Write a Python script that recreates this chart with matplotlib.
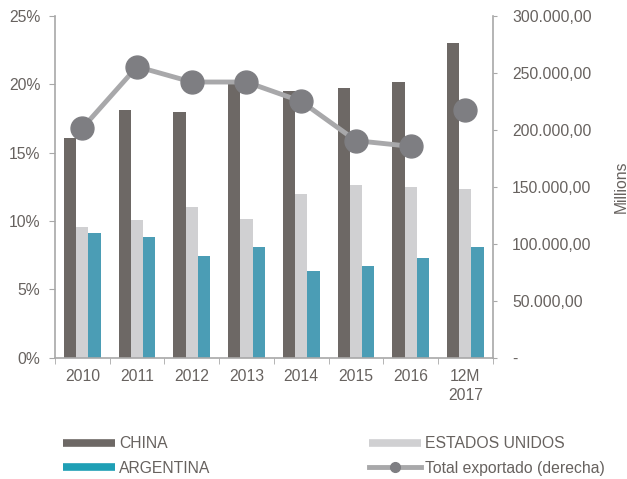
import matplotlib
matplotlib.use("Agg")
import matplotlib.pyplot as plt
from matplotlib.lines import Line2D
import numpy as np

plt.rcParams['font.family'] = ['Liberation Sans', 'DejaVu Sans']

categories = ["2010", "2011", "2012", "2013", "2014", "2015", "2016", "12M\n2017"]
china = [16.1, 18.1, 18.0, 20.1, 19.5, 19.7, 20.15, 23.0]
usa = [9.55, 10.1, 11.0, 10.15, 12.0, 12.6, 12.5, 12.35]
argentina = [9.15, 8.85, 7.4, 8.1, 6.35, 6.7, 7.25, 8.1]
total = [201500, 255500, 242000, 242000, 225000, 190500, 185500, 217500]

c_china = "#6d6865"
c_usa = "#d0d0d2"
c_arg = "#4b9db5"
c_line = "#a8a8aa"
c_mark = "#7e7e82"
c_text = "#67625f"
c_axis = "#a8a8a8"
fs = 11.3

fig = plt.figure(figsize=(6.27, 4.79), dpi=100)
ax = fig.add_axes([55/627, 1-357.5/479, (492.7-55)/627, (357.5-16)/479])
ax2 = ax.twinx()

x = np.arange(len(categories))
w = 0.223
ax.bar(x - w, china, w, color=c_china, zorder=2)
ax.bar(x, usa, w, color=c_usa, zorder=2)
ax.bar(x + w, argentina, w, color=c_arg, zorder=2)

ax.set_xlim(-0.5, len(categories) - 0.5)
ax.set_ylim(0, 25)
ax.set_yticks([0, 5, 10, 15, 20, 25])
ax.set_yticklabels([f"{v}%" for v in [0, 5, 10, 15, 20, 25]])
ax.set_xticks(x)
ax.set_xticklabels(categories, linespacing=1.4)
ax.set_xticks(np.arange(-0.5, len(categories)), minor=True)
ax.tick_params(axis='x', which='major', length=0, pad=8, labelsize=fs, labelcolor=c_text)
ax.tick_params(axis='x', which='minor', length=4, color=c_axis, direction='out')
ax.tick_params(axis='y', length=4, color=c_axis, labelsize=fs, labelcolor=c_text, pad=6.5)

for s in ['top', 'right']:
    ax.spines[s].set_visible(False)
for s in ['left', 'bottom']:
    ax.spines[s].set_color(c_axis)
    ax.spines[s].set_linewidth(1.2)

# line (last point separate)
ax2.plot(x[:7], total[:7], color=c_line, lw=3.5, zorder=3)
ax2.plot(x, total, linestyle='none', marker='o', markersize=16.5,
         markerfacecolor=c_mark, markeredgecolor=c_mark, zorder=4)
ax2.set_ylim(0, 300000)
rt = [0, 50000, 100000, 150000, 200000, 250000, 300000]
ax2.set_yticks(rt)
ax2.set_yticklabels(["-"] + [f"{v:,.2f}".replace(",", "X").replace(".", ",").replace("X", ".") for v in rt[1:]])
ax2.tick_params(axis='y', length=3, color=c_axis, labelsize=fs, labelcolor=c_text, pad=11)
for s in ['top', 'left', 'bottom']:
    ax2.spines[s].set_visible(False)
ax2.spines['right'].set_color(c_axis)
ax2.spines['right'].set_linewidth(1.2)
fig.text(621/627, 1-187/479, "Millions", rotation=90, ha='center', va='center',
         color=c_text, fontsize=fs)

handles = [
    Line2D([], [], color=c_china, lw=5.5, solid_capstyle='butt'),
    Line2D([], [], color="#1f9fb5", lw=5.5, solid_capstyle='butt'),
    Line2D([], [], color=c_usa, lw=5.5, solid_capstyle='butt'),
    Line2D([], [], color=c_line, lw=3.5, marker='o', markersize=7,
           markerfacecolor=c_mark, markeredgecolor=c_mark),
]
labels = ["CHINA", "ARGENTINA", "ESTADOS UNIDOS", "Total exportado (derecha)"]
leg = fig.legend(handles, labels, ncol=2, loc='upper left',
                 bbox_to_anchor=(63/627, 1-436/479), frameon=False,
                 borderpad=0, borderaxespad=0,
                 fontsize=fs, handlelength=3.3, handletextpad=0.28,
                 columnspacing=10.1, labelspacing=0.62, labelcolor=c_text)

fig.savefig("out.png", dpi=100)
